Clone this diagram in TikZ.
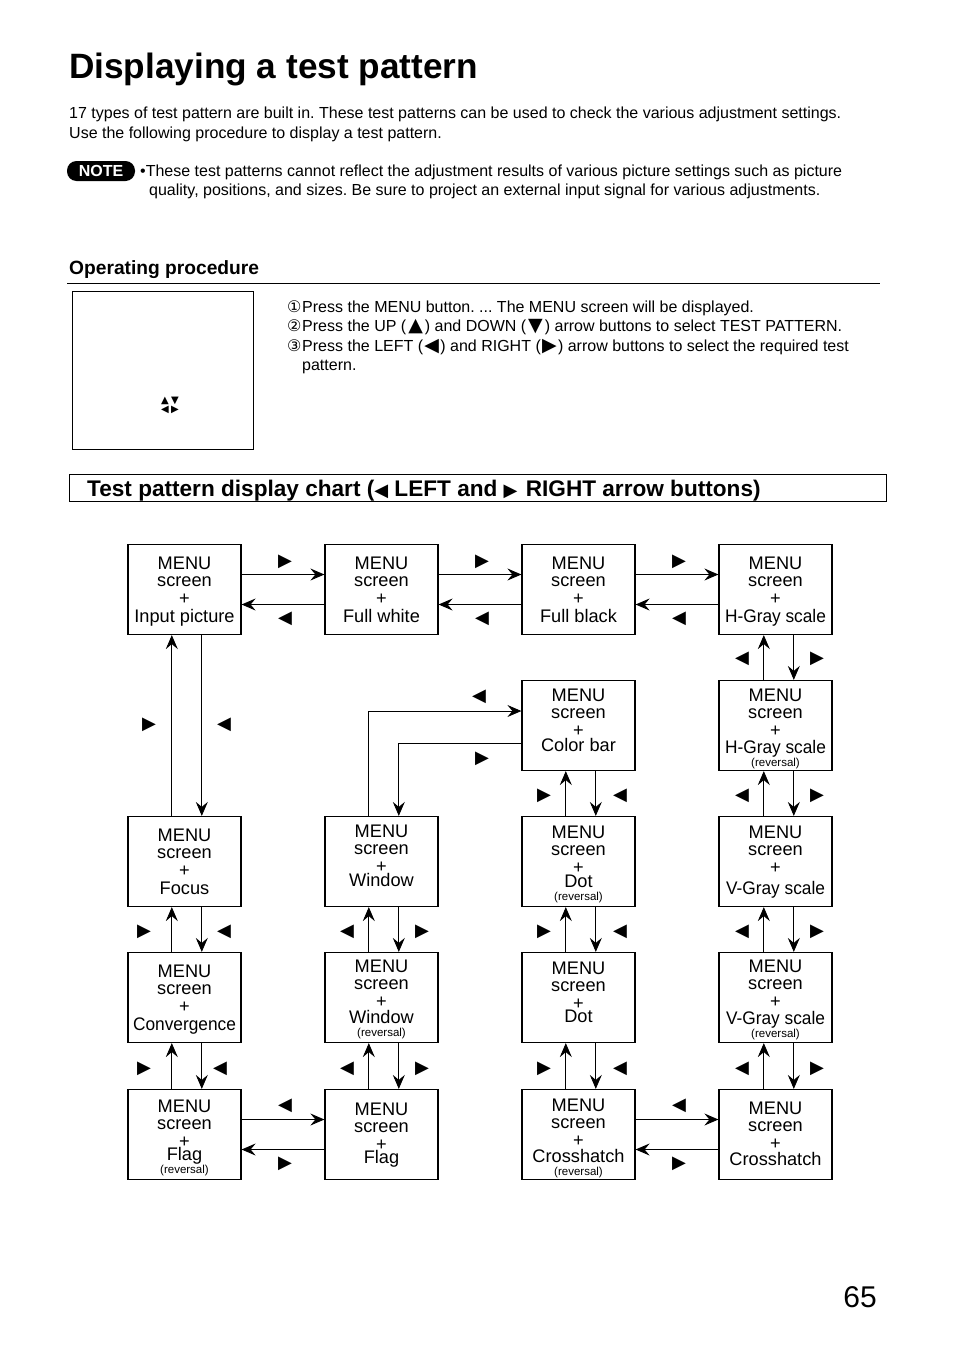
\documentclass[tikz,border=0pt]{standalone}
\usepackage{fontspec}
\setmainfont{Liberation Sans}
\newfontfamily\symfont{DejaVu Sans}
\usetikzlibrary{arrows.meta}
\frenchspacing
\newcommand{\sym}[2][2pt]{\hspace{#1}{\symfont\fontsize{19}{19}\selectfont #2}\hspace{#1}}
% box text: [gap above the label], baseline of MENU measured up from the box centre, label
\newcommand{\menutext}[3][0.5]{\raisebox{#2pt}[0pt][0pt]{\parbox[t]{112pt}{\centering\fontsize{18.2}{17}\selectfont\lineskiplimit=-50pt MENU\\screen\\[1pt]+\\[#1pt]#3\par}}}
\newcommand{\revtext}{\\[-4pt]{\fontsize{11.5}{11.5}\selectfont (reversal)}}
\newcommand{\narrow}[1]{\scalebox{0.95}[1]{#1}}
\begin{document}
\begin{tikzpicture}[x=1pt,y=-1pt]
    % Styles
    \tikzset{
        menubox/.style={draw,line width=1.2pt,minimum width=113pt,minimum height=90pt,inner sep=0pt},
        link/.style={line width=0.9pt,-{Stealth[length=14pt,width=12pt,inset=5pt]}},
        marker/.style={inner sep=0pt,yshift=-0.8pt,font=\symfont\fontsize{18}{18}\selectfont},
        tiny marker/.style={inner sep=0pt,font=\symfont\fontsize{10}{10}\selectfont},
        body/.style={anchor=base west,inner sep=0pt,font=\fontsize{16}{16}\selectfont},
    }
    \useasboundingbox (0,0) rectangle (954,1349);
    %heading
    \node[anchor=base west,inner sep=0pt,font=\bfseries\fontsize{35.2}{36}\selectfont] (title) at (69,78.5) {Displaying a test pattern};
    \node[body] (introa) at (69,118) {17 types of test pattern are built in. These test patterns can be used to check the various adjustment settings.};
    \node[body] (introb) at (69,138) {Use the following procedure to display a test pattern.};
    \node[fill=black,text=white,rounded corners=9.5pt,minimum width=68pt,minimum height=20pt,inner sep=0pt,font=\bfseries\fontsize{16}{16}\selectfont] (note) at (101,171) {NOTE};
    \node[body] (notea) at (140,176) {•These test patterns cannot reflect the adjustment results of various picture settings such as picture};
    \node[body] (noteb) at (149,195) {quality, positions, and sizes. Be sure to project an external input signal for various adjustments.};
    %procedure
    \node[anchor=base west,inner sep=0pt,font=\bfseries\fontsize{19.2}{19.5}\selectfont] (oper) at (69,274) {Operating procedure};
    \draw[line width=0.9pt] (67,283) -- (880,283);
    \draw[line width=0.9pt] (72.5,291.5) rectangle (253.5,449.5);
    \node[tiny marker] (up) at (165,400.5) {▲};
    \node[tiny marker] (down) at (175,400.5) {▼};
    \node[tiny marker] (left) at (165,409.5) {◀};
    \node[tiny marker] (right) at (175,409.5) {▶};
    \node[body] (stepa) at (287,312) {{\symfont ①}\hspace{0.7pt}Press the MENU button. ... The MENU screen will be displayed.};
    \node[body] (stepb) at (287,331) {{\symfont ②}\hspace{0.7pt}Press the UP (\sym{▲}) and DOWN (\sym{▼}) arrow buttons to select TEST PATTERN.};
    \node[body] (stepc) at (287,351) {{\symfont ③}\hspace{0.7pt}Press the LEFT (\sym[1.3pt]{◀}) and RIGHT (\sym[1.3pt]{▶}) arrow buttons to select the required test};
    \node[body] (stepd) at (302,370) {pattern.};
    %chart heading
    \draw[line width=0.9pt] (69.5,474.5) rectangle (886.5,501.5);
    \node[anchor=base west,inner sep=0pt,font=\bfseries\fontsize{22.6}{23}\selectfont] (chart) at (87,496) {Test pattern display chart ({\fontsize{18}{18}\symfont ◀} LEFT and {\fontsize{18}{18}\symfont ▶}\hspace{2pt} RIGHT arrow buttons)};
    %boxes
    \node[menubox] (input) at (184.5,589.5) {\menutext[1]{20.5}{Input picture}};
    \node[menubox] (white) at (381.5,589.5) {\menutext[1]{20.5}{Full white}};
    \node[menubox] (black) at (578.5,589.5) {\menutext[1]{20.5}{Full black}};
    \node[menubox] (hgray) at (775.5,589.5) {\menutext[1]{20.5}{\narrow{H-Gray scale}}};
    \node[menubox] (bar) at (578.5,725.5) {\menutext[-2.5]{24}{Color bar}};
    \node[menubox] (hgrayrev) at (775.5,725.5) {\menutext[-0.5]{24}{\narrow{H-Gray scale}\revtext}};
    \node[menubox] (focus) at (184.5,861.5) {\menutext{20}{Focus}};
    \node[menubox] (win) at (381.5,861.5) {\menutext[-3.5]{24}{Window}};
    \node[menubox] (dotrev) at (578.5,861.5) {\menutext[-3.5]{23}{Dot\revtext}};
    \node[menubox] (vgray) at (775.5,861.5) {\menutext[3.5]{23}{\narrow{V-Gray scale}}};
    \node[menubox] (conv) at (184.5,997.5) {\menutext{20}{\narrow{Convergence}}};
    \node[menubox] (winrev) at (381.5,997.5) {\menutext[-1.5]{25}{Window\revtext}};
    \node[menubox] (dot) at (578.5,997.5) {\menutext[-4.5]{23}{Dot}};
    \node[menubox] (vgrayrev) at (775.5,997.5) {\menutext[-0.5]{25}{\narrow{V-Gray scale}\revtext}};
    \node[menubox] (flagrev) at (184.5,1134.5) {\menutext[-4.5]{22}{Flag\revtext}};
    \node[menubox] (flag) at (381.5,1134.5) {\menutext[-4.5]{19}{Flag}};
    \node[menubox] (crossrev) at (578.5,1134.5) {\menutext[-1.5]{23}{Crosshatch\revtext}};
    \node[menubox] (cross) at (775.5,1134.5) {\menutext[-1.5]{20}{Crosshatch}};
    %sideways pairs
    \foreach \a/\b in {input/white,white/black,black/hgray,flagrev/flag,crossrev/cross} {
        \draw[link] ([yshift=15pt]\a.east) -- ([yshift=15pt]\b.west);
        \draw[link] ([yshift=-15pt]\b.west) -- ([yshift=-15pt]\a.east);
    }
    %up and down pairs
    \foreach \a/\b/\d in {input/focus/0,focus/conv/0,conv/flagrev/0,win/winrev/0,winrev/flag/0,bar/dotrev/0,dotrev/dot/0,dot/crossrev/0,hgray/hgrayrev/1,hgrayrev/vgray/1,vgray/vgrayrev/1,vgrayrev/cross/1} {
        \draw[link] ([xshift=\d pt-12.7pt]\b.north) -- ([xshift=\d pt-12.7pt]\a.south);
        \draw[link] ([xshift=\d pt+17.3pt]\a.south) -- ([xshift=\d pt+17.3pt]\b.north);
    }
    %window and color bar
    \draw[link] ([xshift=-12.7pt]win.north) |- ([yshift=14.5pt]bar.west);
    \draw[link] ([yshift=-17.5pt]bar.west) -| ([xshift=17.3pt]win.north);
    %arrow marks
    \foreach \mx/\my in {285/561,482/561,679/561,149/724,482/758,544/795,544/931,544/1068,817/658,817/795,817/931,817/1068,144/931,144/1068,422/931,422/1068,285/1163,679/1163}
        \node[marker] (r\mx-\my) at (\mx,\my) {▶};
    \foreach \mx/\my in {285/618,482/618,679/618,224/724,479/696,620/795,620/931,620/1068,742/658,742/795,742/931,742/1068,224/931,220/1068,347/931,347/1068,285/1105,679/1105}
        \node[marker] (l\mx-\my) at (\mx,\my) {◀};
    %page number
    \node[anchor=base east,inner sep=0pt,font=\fontsize{30}{30}\selectfont] (page) at (877,1307) {65};
\end{tikzpicture}
\end{document}
